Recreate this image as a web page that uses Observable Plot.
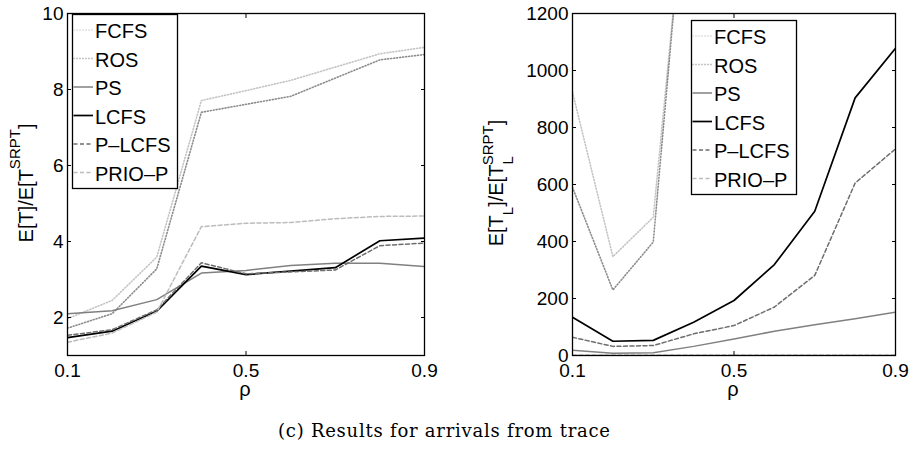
<!DOCTYPE html>
<html><head><meta charset="utf-8">
<script src="https://cdn.jsdelivr.net/npm/d3@7"></script>
<script src="https://cdn.jsdelivr.net/npm/@observablehq/plot@0.6"></script>
<style>
body{margin:0;background:#fff;}
#wrap{position:relative;width:912px;height:454px;overflow:hidden;}
#wrap svg{position:absolute;top:0;}
</style></head>
<body><div id="wrap"></div>
<script>
// ---- data ----
const rho = [0.1, 0.2, 0.3, 0.4, 0.5, 0.6, 0.7, 0.8, 0.9];
const seriesNames = ["FCFS", "ROS", "PS", "LCFS", "P\u2013LCFS", "PRIO\u2013P"];
// left panel: E[T]/E[T^SRPT]
const fcfsT  = [1.97, 2.45, 3.59, 7.71, 7.97, 8.24, 8.59, 8.94, 9.11];
const rosT   = [1.72, 2.10, 3.28, 7.40, 7.61, 7.82, 8.30, 8.78, 8.92];
const psT    = [2.10, 2.18, 2.47, 3.17, 3.24, 3.37, 3.43, 3.43, 3.34];
const lcfsT  = [1.47, 1.64, 2.17, 3.35, 3.13, 3.22, 3.31, 4.02, 4.09];
const plcfsT = [1.53, 1.68, 2.20, 3.44, 3.15, 3.20, 3.25, 3.89, 3.96];
const priopT = [1.35, 1.59, 2.14, 4.39, 4.48, 4.50, 4.60, 4.66, 4.67];
// right panel: E[T_L]/E[T_L^SRPT]
const fcfsL  = [924, 347, 485, 1950, 2200, 2500, 2900, 3300, 3700];
const rosL   = [590, 230, 398, 2000, 2150, 2400, 2800, 3200, 3600];
const psL    = [18, 8, 10, 32, 58, 85, 108, 129, 152];
const lcfsL  = [134, 50, 53, 117, 193, 319, 506, 904, 1078];
const plcfsL = [64, 32, 35, 76, 105, 170, 281, 605, 725];
const priopL = [2, 2, 2, 2, 2, 2, 2, 2, 2];
const xTicks = [0.1, 0.5, 0.9];
const yTicksLeft = [2, 4, 6, 8, 10];
const yTicksRight = [0, 200, 400, 600, 800, 1000, 1200];

// ---- styles ----
const styles = [
  {stroke: "#c4c4c4", dash: "1,2", width: 1.6},
  {stroke: "#8c8c8c", dash: "1,2", width: 1.6},
  {stroke: "#808080", dash: null, width: 1.5},
  {stroke: "#000000", dash: null, width: 1.7},
  {stroke: "#6e6e6e", dash: "4,2.5", width: 1.5},
  {stroke: "#bcbcbc", dash: "4,2.5", width: 1.5}
];

const blank = () => "";

function panel(values, yDomain, yTicks, width, marginLeft, marginRight) {
  const lines = values.map((vals, k) =>
    Plot.line(rho.map((r, i) => ({x: r, y: vals[i]})), {
      x: "x", y: "y", stroke: styles[k].stroke, strokeWidth: styles[k].width,
      strokeDasharray: styles[k].dash, clip: true
    }));
  return Plot.plot({
    width, height: 400, marginTop: 13, marginBottom: 45, marginLeft, marginRight,
    style: {fontFamily: "'Liberation Sans', Arial, sans-serif", fontSize: "19px", background: "transparent", color: "#000", overflow: "visible"},
    x: {domain: [0.1, 0.9]},
    y: {domain: yDomain},
    marks: [
      ...lines,
      Plot.axisX({ticks: xTicks, anchor: "bottom", tickSize: 0, tickPadding: 8, tickFormat: d => String(d), label: null}),
      Plot.axisX({ticks: xTicks, anchor: "bottom", tickSize: -4, tickFormat: blank, label: null}),
      Plot.axisX({ticks: xTicks, anchor: "top", tickSize: -4, tickFormat: blank, label: null}),
      Plot.axisY({ticks: yTicks, anchor: "left", tickSize: 0, tickPadding: 4, tickFormat: d => String(d), label: null}),
      Plot.axisY({ticks: yTicks, anchor: "left", tickSize: -4, tickFormat: blank, label: null}),
      Plot.axisY({ticks: yTicks, anchor: "right", tickSize: -4, tickFormat: blank, label: null}),
      Plot.frame({stroke: "#000", strokeWidth: 1.3})
    ]
  });
}

const wrap = document.getElementById("wrap");
const left = panel([fcfsT, rosT, psT, lcfsT, plcfsT, priopT], [1, 10], yTicksLeft, 456, 67, 32);
left.style.left = "0px";
wrap.appendChild(left);
const right = panel([fcfsL, rosL, psL, lcfsL, plcfsL, priopL], [0, 1200], yTicksRight, 456, 116, 17);
right.style.left = "456px";
wrap.appendChild(right);

// ---- overlay: legends, axis labels, caption ----
const ov = d3.select(wrap).append("svg")
  .attr("width", 912).attr("height", 454)
  .style("left", "0px").style("pointer-events", "none")
  .attr("font-family", "'Liberation Sans', Arial, sans-serif");

function legend(x0, y0) {
  const g = ov.append("g").attr("transform", `translate(${x0},${y0})`);
  g.append("rect").attr("x", 0.5).attr("y", 0.5).attr("width", 105).attr("height", 174)
    .attr("fill", "#fff").attr("stroke", "#000").attr("stroke-width", 1.3);
  seriesNames.forEach((name, k) => {
    const yb = 24 + k * 28.5;
    g.append("line").attr("x1", 1.5).attr("x2", 21).attr("y1", yb - 8).attr("y2", yb - 8)
      .attr("stroke", styles[k].stroke).attr("stroke-width", styles[k].width)
      .attr("stroke-dasharray", styles[k].dash);
    g.append("text").attr("x", 23).attr("y", yb).attr("font-size", 20).attr("fill", "#000").text(name);
  });
}
legend(72, 14);
legend(691, 20);

// y labels
const yl = ov.append("text").attr("transform", "translate(33,183) rotate(-90)")
  .attr("text-anchor", "middle").attr("font-size", 20).attr("fill", "#000");
yl.append("tspan").text("E[T]/E[T");
yl.append("tspan").attr("dy", -13).attr("font-size", 15).text("SRPT");
yl.append("tspan").attr("dy", 13).text("]");

const yr = ov.append("text").attr("transform", "translate(503,183) rotate(-90)")
  .attr("text-anchor", "middle").attr("font-size", 20).attr("fill", "#000");
yr.append("tspan").text("E[T");
yr.append("tspan").attr("dy", 10).attr("font-size", 15).text("L");
yr.append("tspan").attr("dy", -10).text("]/E[T");
yr.append("tspan").attr("dy", 10).attr("font-size", 15).text("L");
yr.append("tspan").attr("dy", -20).attr("dx", -9).attr("font-size", 15).text("SRPT");
yr.append("tspan").attr("dy", 10).text("]");

// x labels
[[245, 396], [733, 396]].forEach(([x, y]) => {
  ov.append("text").attr("x", x).attr("y", y).attr("text-anchor", "middle")
    .attr("font-size", 20).attr("fill", "#000").text("\u03c1");
});

// caption
ov.append("text").attr("x", 278).attr("y", 437)
  .attr("font-family", "'DejaVu Serif', serif").attr("font-size", 18)
  .attr("textLength", 332).attr("lengthAdjust", "spacing")
  .attr("fill", "#000").text("(c) Results for arrivals from trace");
</script>
</body></html>
